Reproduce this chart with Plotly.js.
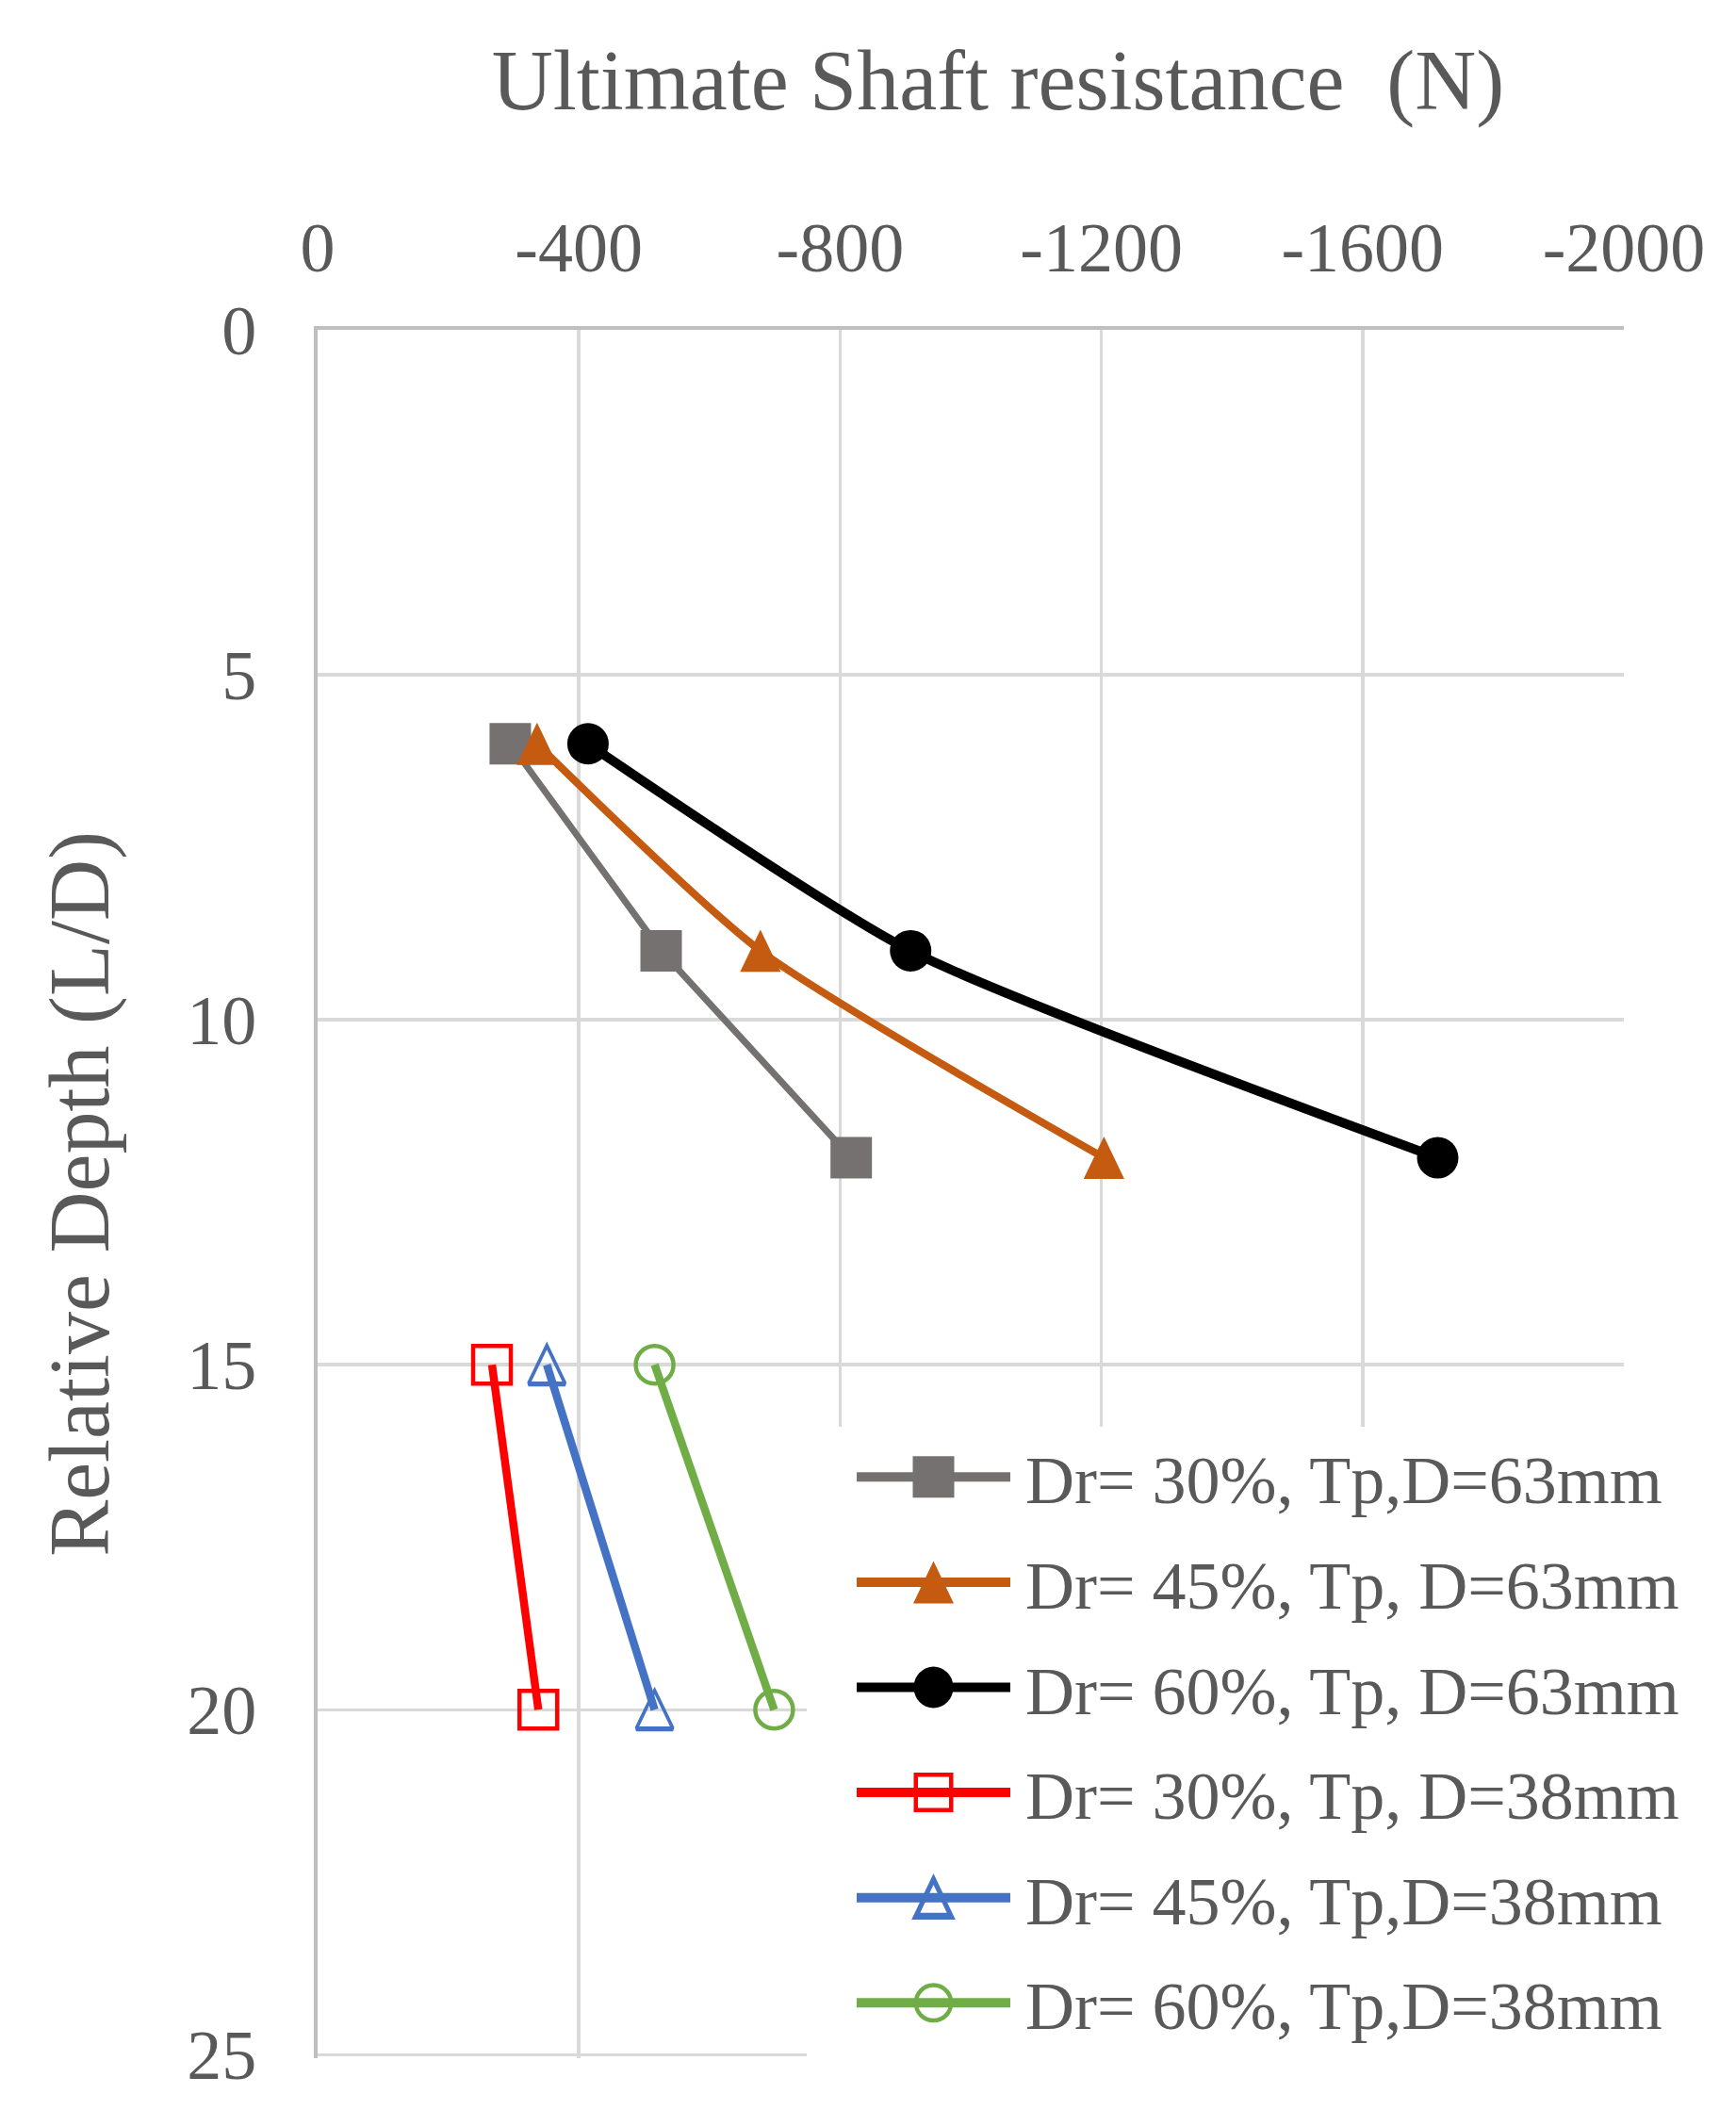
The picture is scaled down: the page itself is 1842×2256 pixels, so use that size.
<!DOCTYPE html>
<html>
<head>
<meta charset="utf-8">
<script src="https://cdn.plot.ly/plotly-3.0.1.min.js"></script>
<style>html,body{margin:0;padding:0;background:#fff;}#chart{width:1842px;height:2256px;}</style>
</head>
<body>
<div id="chart"></div>
<script>
// Data
const seriesNames = [
  "Dr= 30%, Tp,D=63mm",
  "Dr= 45%, Tp, D=63mm",
  "Dr= 60%, Tp, D=63mm",
  "Dr= 30%, Tp, D=38mm",
  "Dr= 45%, Tp,D=38mm",
  "Dr= 60%, Tp,D=38mm"
];
const depth63 = [6, 9, 12];
const depth38 = [15, 20];
const dr30_63 = [-295, -526, -817];
const dr45_63 = [-336, -678, -1204];
const dr60_63 = [-414, -908, -1715];
const dr30_38 = [-267, -338];
const dr45_38 = [-351, -516];
const dr60_38 = [-516, -699];
const xTicks = [0, -400, -800, -1200, -1600, -2000];
const yTicks = [0, 5, 10, 15, 20, 25];

const F = '"Liberation Serif", "Times New Roman", serif';
const txt = '#595959';

const traces = [
  {x: dr30_63, y: depth63, name: seriesNames[0], line: {color: '#767171', width: 7}, marker: {symbol: 'square', size: 44, color: '#767171'}},
  {x: dr45_63, y: depth63, name: seriesNames[1], line: {color: '#C55A11', width: 8, shape: 'spline', smoothing: 0.6}, marker: {symbol: 'triangle-up', size: 44, color: '#C55A11'}},
  {x: dr60_63, y: depth63, name: seriesNames[2], line: {color: '#000000', width: 10, shape: 'spline', smoothing: 0.6}, marker: {symbol: 'circle', size: 44, color: '#000000'}},
  {x: dr30_38, y: depth38, name: seriesNames[3], line: {color: '#FF0000', width: 8.5}, marker: {symbol: 'square-open', size: 40, color: '#FF0000', line: {width: 4.5, color: '#FF0000'}}},
  {x: dr45_38, y: depth38, name: seriesNames[4], line: {color: '#4472C4', width: 8.5}, marker: {symbol: 'triangle-up-open', size: 40, color: '#4472C4', line: {width: 4.5, color: '#4472C4'}}},
  {x: dr60_38, y: depth38, name: seriesNames[5], line: {color: '#70AD47', width: 8.5}, marker: {symbol: 'circle-open', size: 40, color: '#70AD47', line: {width: 4.5, color: '#70AD47'}}}
].map((t, i) => Object.assign({type: 'scatter', mode: 'lines+markers', legendgroup: 'g' + i}, t));

const layout = {
  width: 1842, height: 2256,
  paper_bgcolor: '#fff', plot_bgcolor: '#fff',
  margin: {l: 337, r: 119, t: 350, b: 72, pad: 0},
  font: {family: F, color: txt, size: 74},
  title: {
    text: 'Ultimate Shaft resistance\u00a0\u00a0(N)',
    font: {family: F, size: 90, color: txt},
    x: 1059 / 1842, xref: 'container', xanchor: 'center',
    y: 1 - 84 / 2256, yref: 'container', yanchor: 'middle'
  },
  xaxis: {
    side: 'top', range: [0, -2000], tickvals: xTicks, ticktext: xTicks.map(String),
    showgrid: true, gridcolor: '#d9d9d9', gridwidth: 3.5,
    showline: true, linecolor: '#bfbfbf', linewidth: 4, mirror: false,
    zeroline: false, ticks: '', ticklabelstandoff: 28,
    tickfont: {family: F, size: 74, color: txt}
  },
  yaxis: {
    range: [25.05, 0], tickvals: yTicks, ticktext: yTicks.map(String),
    showgrid: true, gridcolor: '#d9d9d9', gridwidth: 3.5,
    showline: true, linecolor: '#bfbfbf', linewidth: 4, mirror: false,
    zeroline: false, ticks: '', ticklabelstandoff: 46,
    tickfont: {family: F, size: 74, color: txt},
    title: {text: 'Relative Depth (L/D)', font: {family: F, size: 90, color: txt}, standoff: 54}
  },
  showlegend: true,
  legend: {
    x: (856 - 337) / 1386, xanchor: 'left',
    y: (2184 - 1514) / 1834, yanchor: 'top',
    bgcolor: '#ffffff', borderwidth: 0,
    font: {family: F, size: 72, color: txt},
    itemwidth: 222, tracegroupgap: 15, traceorder: 'grouped',
    itemsizing: 'trace'
  }
};

// marker shape tuning (width/height in px) for legend symbols
const legendSym = [[44, 44], [43, 45], [42, 44], [42, 42], [42, 44], [42, 42]];
const openStroke = [0, 0, 0, 4.5, 4.5, 4.5];

Plotly.newPlot('chart', traces, layout, {displayModeBar: false, staticPlot: true}).then(function (gd) {
  // make the triangles taller/narrower like the reference
  gd.querySelectorAll('.scatterlayer .trace').forEach(function (tr, i) {
    if (i === 1 || i === 4) {
      tr.querySelectorAll('.points path.point').forEach(function (p) {
        const t = p.getAttribute('transform') || '';
        const r = (i === 1 ? 44 : 40) / 2;
        p.setAttribute('transform', t + ' scale(0.85,1.36) translate(0,' + (r / 4) + ')');
        if (i === 4) p.style.strokeWidth = '3.8px';
      });
    }
  });
  // legend background reaches below the plot bottom, as in the reference
  const bg = gd.querySelector('.legend rect.bg');
  if (bg) {
    const h = parseFloat(bg.getAttribute('height')) || 0;
    bg.setAttribute('height', h + 60);
  }
  // legend: longer, thicker lines and full-size markers centred on them
  gd.querySelectorAll('.legend .traces').forEach(function (tr, i) {
    const line = tr.querySelector('.legendlines path');
    if (line) { line.setAttribute('d', 'M53,0h163'); line.style.strokeWidth = '10px'; }
    tr.querySelectorAll('.legendpoints path.scatterpts').forEach(function (p) {
      const bb = p.getBBox();
      const w = legendSym[i][0], h = legendSym[i][1];
      const sx = (w - openStroke[i]) / bb.width, sy = (h - openStroke[i]) / bb.height;
      const cy = bb.y + bb.height / 2;
      p.setAttribute('transform', 'translate(134.5,0) scale(' + sx + ',' + sy + ') translate(0,' + (-cy) + ')');
      if (openStroke[i]) p.style.strokeWidth = (openStroke[i] / Math.min(sx, sy)) + 'px';
    });
  });
});
</script>
</body>
</html>
